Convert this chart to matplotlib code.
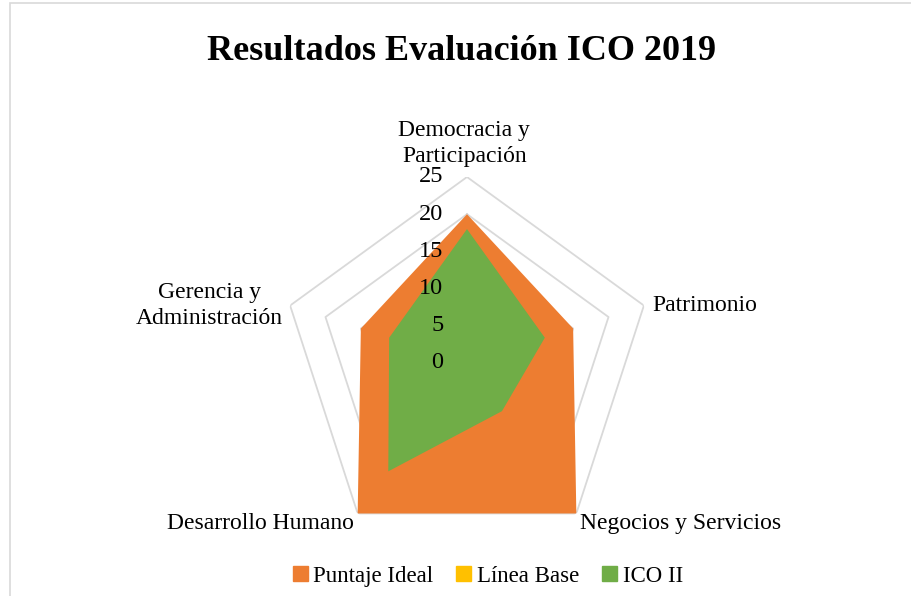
import numpy as np
import matplotlib
matplotlib.use("Agg")
import matplotlib.pyplot as plt
from matplotlib.patches import Rectangle, Patch

plt.rcParams['font.family'] = ['Liberation Serif', 'DejaVu Serif']

categorias = ["Democracia y\nParticipación", "Patrimonio", "Negocios y Servicios",
              "Desarrollo Humano", "Gerencia y\nAdministración"]
puntaje_ideal = [20, 15, 25, 25, 15]
linea_base = [0, 0, 0, 0, 0]
ico_ii = [18, 11, 8, 18, 11]
anillos = [5, 10, 15, 20, 25]
etiquetas_r = ["0", "5", "10", "15", "20", "25"]

naranja = "#ED7D31"
amarillo = "#FFC000"
verde = "#70AD47"
gris = "#D9D9D9"

W, H = 912, 596
fig = plt.figure(figsize=(W / 100, H / 100), dpi=100)

# borde del area del grafico
fig.patches.append(Rectangle((10 / W, -0.1), 1.2, (H - 3) / H + 0.1, transform=fig.transFigure,
                             fill=False, edgecolor=gris, linewidth=1.2))

cx, cy, R = 467, 363, 186
ax = fig.add_axes([(cx - R) / W, (H - cy - R) / H, 2 * R / W, 2 * R / H], projection='polar')
ax.set_theta_offset(np.pi / 2)
ax.set_theta_direction(-1)
ax.set_ylim(0, 25)
ax.grid(False)
ax.set_xticks([])
ax.set_yticks([])
ax.spines['polar'].set_visible(False)
ax.patch.set_alpha(0)

n = len(categorias)
ang = np.linspace(0, 2 * np.pi, n, endpoint=False)
ang_c = np.append(ang, ang[0])

for r in anillos:
    ax.plot(ang_c, [r] * (n + 1), color=gris, linewidth=1.3, zorder=1)

def cerrar(v):
    return np.append(v, v[0])

ax.fill(ang_c, cerrar(puntaje_ideal), color=naranja, zorder=2, linewidth=0)
ax.fill(ang_c, cerrar(linea_base), color=amarillo, zorder=3, linewidth=0)
ax.fill(ang_c, cerrar(ico_ii), color=verde, zorder=4, linewidth=0)

# etiquetas del eje radial
for i, lab in enumerate(etiquetas_r):
    ax.annotate(lab, xy=(0, i * 5), xytext=(-17, 0), textcoords='offset points',
                ha='right', va='center', fontsize=17.5, zorder=6)

# etiquetas de categorias
offs = [((-2, 7), 'center', 'bottom'), ((6, 0), 'left', 'center'), ((3, -7), 'left', 'center'),
        ((-3, -7), 'right', 'center'), ((-5, 0), 'right', 'center')]
for a, lab, (xy, ha, va) in zip(ang, categorias, offs):
    ax.annotate(lab, xy=(a, 25), xytext=xy, textcoords='offset points', ha=ha, va=va,
                fontsize=17, multialignment='center', linespacing=1.35, annotation_clip=False)

fig.text(0.506, 0.914, "Resultados Evaluación ICO 2019", ha='center', va='center',
         fontsize=26, fontweight='bold')

handles = [Patch(color=naranja, label="Puntaje Ideal"),
           Patch(color=amarillo, label="Línea Base"),
           Patch(color=verde, label="ICO II")]
fig.legend(handles=handles, loc='center', bbox_to_anchor=(0.535, 0.033), ncol=3, frameon=False,
           fontsize=16.5, handlelength=0.65, handleheight=0.65, handletextpad=0.25, columnspacing=1.0)

fig.savefig("out.png", dpi=100)
